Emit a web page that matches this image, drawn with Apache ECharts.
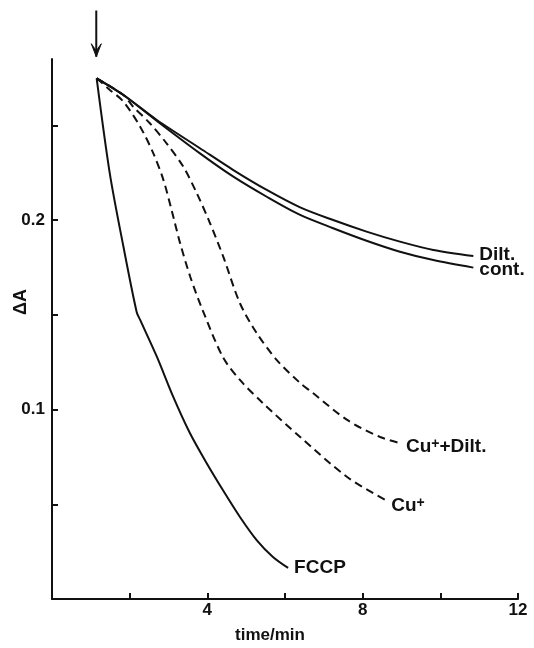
<!DOCTYPE html>
<html>
<head>
<meta charset="utf-8">
<script src="https://cdn.jsdelivr.net/npm/echarts@6/dist/echarts.min.js"></script>
<style>
html, body { margin: 0; padding: 0; background: #fff; }
#chart { width: 534px; height: 648px; }
</style>
</head>
<body>
<div id="chart"></div>
<script>
// time (min), deltaA
var diltData = [[1.15, 0.2748], [1.84, 0.2660], [2.70, 0.2528], [3.81, 0.2379], [4.67, 0.2264],
    [5.53, 0.2159], [6.39, 0.2067], [7.24, 0.2000], [8.10, 0.1939], [8.96, 0.1886], [9.82, 0.1842],
    [10.85, 0.1810]];
var contData = [[1.15, 0.2748], [1.84, 0.2660], [2.70, 0.2523], [3.81, 0.2352], [4.67, 0.2229],
    [5.53, 0.2123], [6.39, 0.2027], [7.24, 0.1957], [8.10, 0.1891], [8.96, 0.1833], [9.82, 0.1789],
    [10.85, 0.1749]];
var cuDiltData = [[1.15, 0.2748], [1.84, 0.2660], [2.09, 0.2598], [2.52, 0.2511], [2.95, 0.2405],
    [3.38, 0.2282], [3.73, 0.2141], [4.07, 0.1983], [4.41, 0.1807], [4.84, 0.1561], [5.27, 0.1404],
    [5.79, 0.1261], [6.39, 0.1140], [6.72, 0.1087], [7.60, 0.0945], [8.45, 0.0855], [8.96, 0.0823]];
var cuData = [[1.15, 0.2748], [1.49, 0.2687], [1.84, 0.2625], [2.27, 0.2493], [2.61, 0.2352],
    [2.87, 0.2211], [3.08, 0.2053], [3.30, 0.1877], [3.56, 0.1701], [3.86, 0.1534], [4.40, 0.1277],
    [4.84, 0.1156], [5.43, 0.1034], [6.39, 0.0855], [7.60, 0.0644], [8.58, 0.0523]];
var fccpData = [[1.15, 0.2748], [1.49, 0.2244], [1.84, 0.1859], [2.18, 0.1515], [2.27, 0.1473],
    [2.70, 0.1279], [3.12, 0.1068], [3.55, 0.0876], [3.98, 0.0718], [4.40, 0.0575], [4.84, 0.0433],
    [5.27, 0.0311], [5.69, 0.0222], [6.08, 0.0164]];

var xTicks = [2, 4, 6, 8, 10, 12];
var xLabels = [4, 8, 12];
var yTicks = [0.05, 0.1, 0.15, 0.2, 0.25];
var yLabels = [0.1, 0.2];

// addition arrow (time, deltaA)
var arrowX = 1.14;
var arrowTail = 0.3106;
var arrowTip = 0.2862;

var font = '"Liberation Sans", Arial, sans-serif';
var ink = '#111';

function curve(name, data, dashed, label, dy) {
    return {
        name: name,
        type: 'line',
        data: data,
        smooth: 0.3,
        symbol: 'none',
        silent: true,
        lineStyle: { color: ink, width: 2, type: dashed ? [8, 5] : 'solid' },
        labelLayout: { hideOverlap: false },
        endLabel: {
            show: true,
            formatter: label,
            distance: 6,
            offset: [0, dy],
            color: ink,
            fontFamily: font,
            fontWeight: 'bold',
            fontSize: 19,
            rich: {
                a: { fontFamily: font, fontWeight: 'bold', fontSize: 19, color: ink },
                s: { fontFamily: font, fontWeight: 'bold', fontSize: 14, color: ink, verticalAlign: 'top' }
            }
        }
    };
}

var chart = echarts.init(document.getElementById('chart'));

chart.setOption({
    animation: false,
    backgroundColor: '#fff',
    grid: { left: 52, right: 16, top: 59, bottom: 49, outerBoundsMode: 'none', containLabel: false },
    xAxis: {
        type: 'value',
        min: 0,
        max: 12,
        interval: 2,
        name: 'time/min',
        nameLocation: 'middle',
        nameGap: 28,
        nameMoveOverlap: false,
        nameTextStyle: { fontFamily: font, fontWeight: 'bold', fontSize: 17, color: ink, padding: [0, 30, 0, 0] },
        axisLine: { lineStyle: { color: ink, width: 2 } },
        axisTick: { inside: true, length: 6, lineStyle: { color: ink, width: 2 }, customValues: xTicks },
        axisLabel: { margin: 3, fontFamily: font, fontWeight: 'bold', fontSize: 17, color: ink, customValues: xLabels },
        splitLine: { show: false }
    },
    yAxis: {
        type: 'value',
        min: 0,
        max: 0.285,
        interval: 0.05,
        name: 'ΔA',
        nameLocation: 'middle',
        nameRotate: 90,
        nameGap: 22,
        nameMoveOverlap: false,
        nameTextStyle: { fontFamily: font, fontWeight: 'bold', fontSize: 18, color: ink, padding: [0, 0, 0, 54] },
        axisLine: { lineStyle: { color: ink, width: 2 } },
        axisTick: { inside: true, length: 6, lineStyle: { color: ink, width: 2 }, customValues: yTicks },
        axisLabel: {
            margin: 7, fontFamily: font, fontWeight: 'bold', fontSize: 17, color: ink, customValues: yLabels,
            formatter: function (v) { return v.toFixed(1); }
        },
        splitLine: { show: false }
    },
    series: [
        curve('Dilt.', diltData, false, '{a|Dilt.}', -1),
        curve('cont.', contData, false, '{a|cont.}', 2),
        curve('Cu+ + Dilt.', cuDiltData, true, '{a|Cu}{s|+}{a|+Dilt.}', 4),
        curve('Cu+', cuData, true, '{a|Cu}{s|+}', 6),
        curve('FCCP', fccpData, false, '{a|FCCP}', 0)
    ]
});

var tip = chart.convertToPixel({ gridIndex: 0 }, [arrowX, arrowTip]);
var tail = chart.convertToPixel({ gridIndex: 0 }, [arrowX, arrowTail]);
chart.setOption({
    graphic: [{
        type: 'line',
        shape: { x1: tail[0], y1: tail[1], x2: tip[0], y2: tip[1] },
        style: { stroke: ink, lineWidth: 2 }
    }, {
        type: 'polygon',
        shape: { points: [[tip[0] - 5, tip[1] - 13], [tip[0], tip[1]], [tip[0] + 5, tip[1] - 13], [tip[0], tip[1] - 6]] },
        style: { fill: ink, stroke: ink, lineWidth: 1 }
    }]
});
</script>
</body>
</html>
